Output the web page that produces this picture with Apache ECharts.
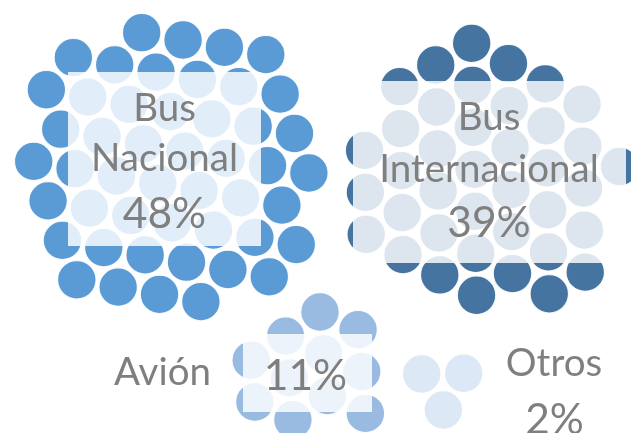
<!DOCTYPE html>
<html>
<head>
<meta charset="utf-8">
<script src="https://cdn.jsdelivr.net/npm/echarts@6/dist/echarts.min.js"></script>
<style>
  html, body { margin: 0; padding: 0; background: #fff; }
  #chart { width: 631px; height: 433px; }
</style>
</head>
<body>
<div id="chart"></div>
<script>
  // data
  const categories = ['Bus Nacional', 'Bus Internacional', 'Avión', 'Otros']
  const shares = [48, 39, 11, 2]
  const dotCounts = [48, 39, 11, 3]
  const colors = ['#5B9BD5', '#44749F', '#99BBE1', '#DDE8F6']

  // where each cluster sits (canvas pixels): lattice anchor, lattice angle, cluster centre
  const STEP = 42
  const clusters = [
    { ax: 141.7, ay: 32.7, angle: 10, cx: 170, cy: 167 },
    { ax: 471.7, ay: 43.3, angle: 28.9, cx: 485.5, cy: 179.8 },
    { ax: 320, ay: 312, angle: 25, cx: 311.8, cy: 370 },
    { ax: 421.7, ay: 374, angle: -1, cx: 442.9, cy: 385.8 }
  ]

  // pick the n hex-lattice points nearest to the cluster centre
  function pack(n, c) {
    const r = c.angle * Math.PI / 180
    const u = [STEP * Math.cos(r), STEP * Math.sin(r)]
    const v = [STEP * Math.cos(r + Math.PI / 3), STEP * Math.sin(r + Math.PI / 3)]
    const pts = []
    for (let a = -12; a <= 12; a++) {
      for (let b = -12; b <= 12; b++) {
        const x = c.ax + a * u[0] + b * v[0]
        const y = c.ay + a * u[1] + b * v[1]
        pts.push({ p: [x, y], d: Math.hypot(x - c.cx, y - c.cy) })
      }
    }
    pts.sort((p, q) => p.d - q.d)
    return pts.slice(0, n).map(o => o.p)
  }

  const FONT = 'Lato, "Open Sans", sans-serif'
  const NAME_SIZE = 38.5
  const PCT_SIZE = 42.5
  const TEXT_COLOR = '#7F7F7F'
  const BOX_FILL = 'rgba(255,255,255,0.82)'

  // label boxes [x, y, w, h] and text lines [text, centreX, baseline, size]
  const boxes = [
    [68, 72, 193, 174],
    [353, 81, 273, 182],
    [243, 334, 129, 78]
  ]
  const lines = [
    ['Bus', 164.5, 121.7, NAME_SIZE],
    ['Nacional', 164.5, 171.7, NAME_SIZE],
    [shares[0] + '%', 164.5, 228, PCT_SIZE],
    ['Bus', 489, 130, NAME_SIZE],
    ['Internacional', 489, 182.3, NAME_SIZE],
    [shares[1] + '%', 489, 237.7, PCT_SIZE],
    ['Avión', 162.5, 385, NAME_SIZE],
    [shares[2] + '%', 305.5, 390, PCT_SIZE],
    ['Otros', 554, 376.7, NAME_SIZE],
    [shares[3] + '%', 554.5, 434, PCT_SIZE]
  ]

  const graphic = []
  boxes.forEach(b => {
    graphic.push({
      type: 'rect',
      z: 100,
      silent: true,
      shape: { x: b[0], y: b[1], width: b[2], height: b[3] },
      style: { fill: BOX_FILL }
    })
  })
  lines.forEach(l => {
    graphic.push({
      type: 'text',
      z: 101,
      silent: true,
      x: l[1],
      y: l[2] - l[3] * 0.33,
      style: {
        text: l[0],
        fill: TEXT_COLOR,
        font: l[3] + 'px ' + FONT,
        textAlign: 'center',
        textVerticalAlign: 'middle'
      }
    })
  })

  const chart = echarts.init(document.getElementById('chart'))
  chart.setOption({
    animation: false,
    grid: { left: 0, right: 0, top: 0, bottom: 0 },
    xAxis: { type: 'value', min: 0, max: 631, show: false },
    yAxis: { type: 'value', min: 0, max: 433, inverse: true, show: false },
    graphic: graphic,
    series: categories.map((name, i) => ({
      name: name,
      type: 'scatter',
      symbolSize: 38.5,
      clip: false,
      silent: true,
      itemStyle: {
        color: colors[i],
        opacity: 1,
        borderColor: 'rgba(255,255,255,0.9)',
        borderWidth: 1.2
      },
      data: pack(dotCounts[i], clusters[i])
    }))
  })
</script>
</body>
</html>
